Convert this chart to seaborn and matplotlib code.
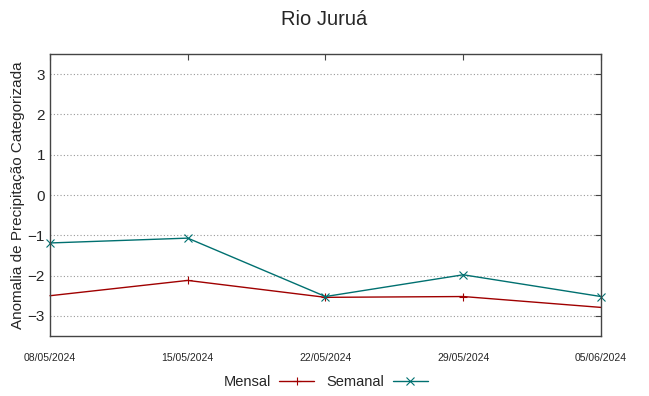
import matplotlib
matplotlib.use("Agg")
import matplotlib.pyplot as plt
import seaborn as sns
import pandas as pd

# data
dates = ["08/05/2024", "15/05/2024", "22/05/2024", "29/05/2024", "05/06/2024"]
mensal = [-2.50, -2.12, -2.54, -2.52, -2.79]
semanal = [-1.19, -1.07, -2.52, -1.98, -2.52]

sns.set_style("white")
plt.rcParams["font.family"] = ["Liberation Sans", "DejaVu Sans"]

df = pd.DataFrame({
    "data": pd.to_datetime(dates * 2, format="%d/%m/%Y"),
    "valor": mensal + semanal,
    "serie": ["Mensal"] * len(dates) + ["Semanal"] * len(dates),
})

fig = plt.figure(figsize=(6.49, 3.96), dpi=100)
ax = fig.add_axes([0.077, 0.1515, 0.849, 0.712])

colors = {"Mensal": "#a00000", "Semanal": "#007070"}
markers = {"Mensal": "+", "Semanal": "x"}
sns.lineplot(data=df, x="data", y="valor", hue="serie", style="serie",
             palette=colors, markers=markers, dashes=False, ax=ax,
             linewidth=1.0, markersize=5.5, markeredgewidth=0.8)

# seaborn paints marker edges white, give them the line colour
for ln in ax.lines:
    ln.set_markeredgecolor(ln.get_color())
    ln.set_clip_on(False)
# monthly marks only show on the inner dates in the reference
ax.lines[0].set_markevery([1, 2, 3])

xt = pd.to_datetime(dates, format="%d/%m/%Y")
ax.set_xticks(xt)
ax.set_xticklabels(dates, fontsize=7.5)
ax.set_xlim(xt[0], xt[-1])
ax.set_ylim(-3.5, 3.5)
ax.set_yticks([-3, -2, -1, 0, 1, 2, 3])
ax.tick_params(axis="y", labelsize=11)
ax.tick_params(direction="in", top=True, right=True, length=4, color="#444444")
ax.tick_params(axis="x", pad=12)
ax.yaxis.grid(True, linestyle=(0, (1, 2)), color="#999999", linewidth=0.8)
ax.xaxis.grid(False)
for s in ax.spines.values():
    s.set_color("#444444")
    s.set_linewidth(1.0)

ax.set_xlabel("")
ax.set_ylabel("Anomalia de Precipitação Categorizada", fontsize=11, labelpad=2)
fig.suptitle("Rio Juruá", fontsize=14.5, y=0.975)

leg = ax.legend(loc="center", bbox_to_anchor=(0.5, -0.163), ncol=2,
                frameon=False, markerfirst=False, fontsize=10.5,
                handlelength=2.4, columnspacing=0.8, handletextpad=0.6)
for ln in leg.get_lines():
    ln.set_markeredgecolor(ln.get_color())

fig.savefig("out.png", dpi=100)
